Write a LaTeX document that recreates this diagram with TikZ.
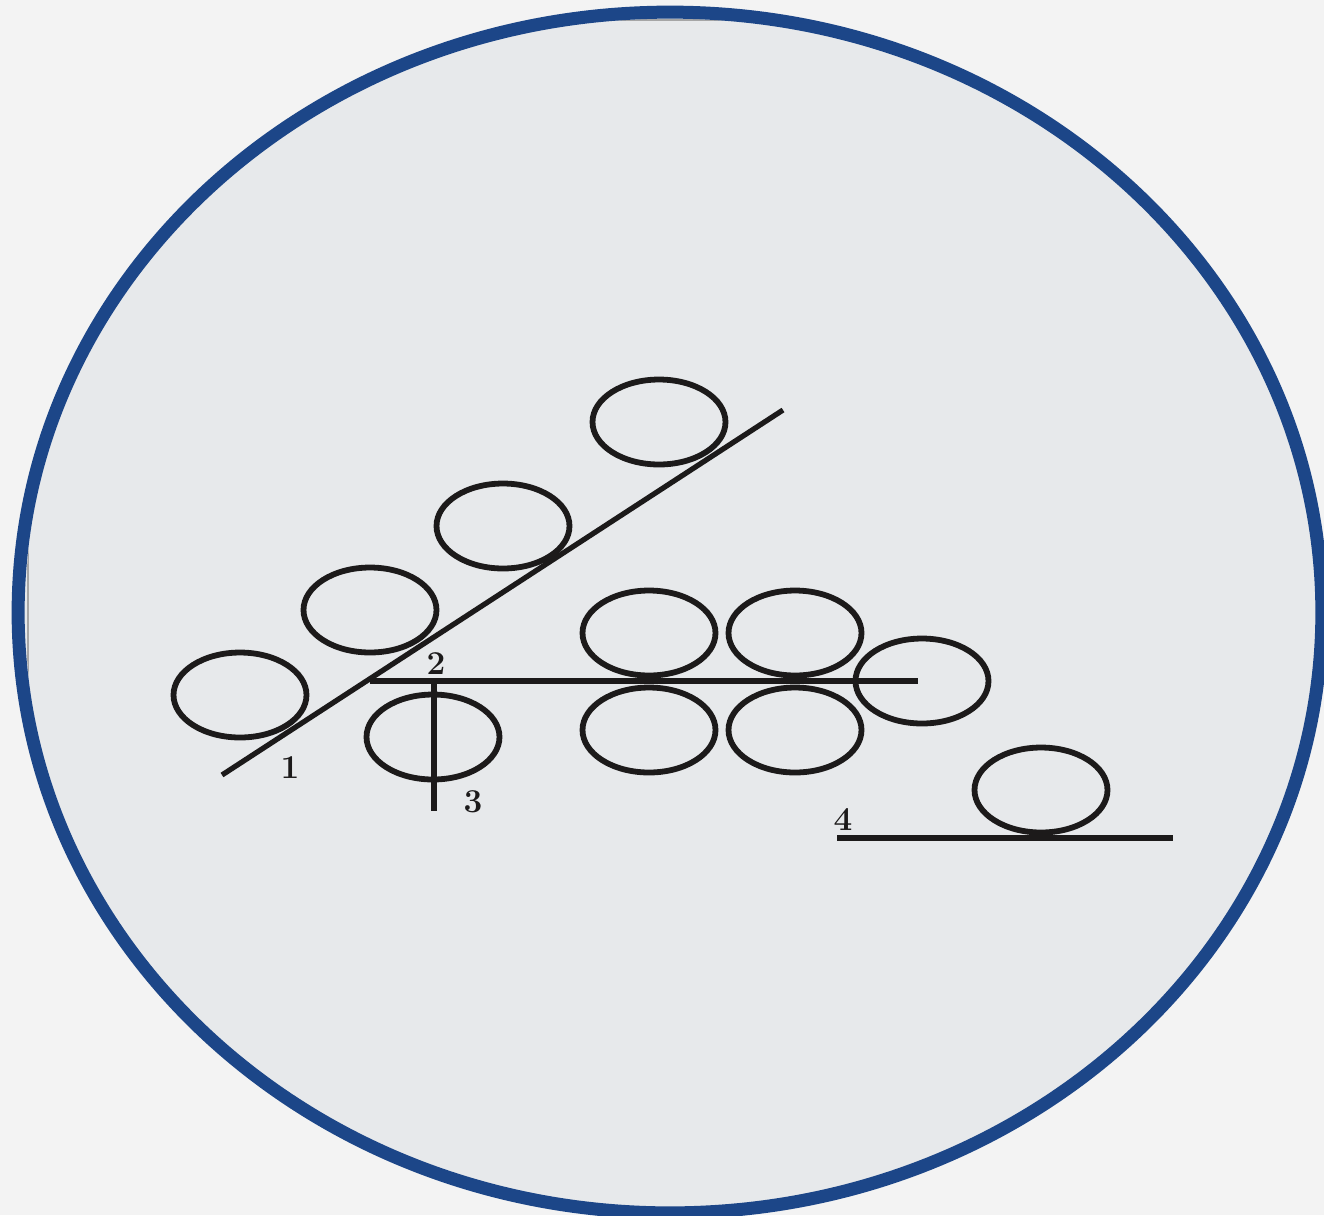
\documentclass[tikz,border=0pt]{standalone}
\usepackage{tikz}
\usetikzlibrary{shapes.geometric}
\definecolor{rimblue}{RGB}{28,70,136}
\definecolor{paper}{RGB}{243,243,243}
\definecolor{disc}{RGB}{231,233,235}
\definecolor{ink}{RGB}{28,26,26}
\tikzset{
  roll/.style={ellipse,draw=ink,line width=3.3pt,inner sep=0pt,
    minimum width=2.66cm,minimum height=1.7cm},
  guide/.style={draw=ink,line width=3pt},
  num/.style={font=\fontsize{19}{19}\selectfont\bfseries,text=ink,inner sep=0pt},
  rim/.style={draw=rimblue,line width=7.4pt},
}

\begin{document}
\begin{tikzpicture}[x=0.02cm,y=-0.02cm]
  \useasboundingbox (0,0) rectangle (1324,1215);
  \fill[paper] (0,0) rectangle (1324,1215);
  % backdrop disc with the picture frame inside
  \fill[disc] (670,612.5) ellipse (13.04cm and 12.01cm);
  \begin{scope}
    \clip (670,612.5) ellipse (12.9cm and 11.88cm);
    \draw[gray!70,line width=1.2pt] (28,20) rectangle (1318,1212);
  \end{scope}
  \draw[rim] (670,612.5) ellipse (13.04cm and 12.01cm);

  % rolls
  \foreach \n/\x/\y in {a1/659/422, a2/503/526, a3/370/610, a4/240/695,
      p/433/737, g11/649/633, g12/795/633, g21/649/730, g22/795/730,
      r/922/681, e/1041/790}
    \node[roll] (\n) at (\x,\y) {};

  % guides
  \coordinate (d0) at (222,775);
  \coordinate (d1) at (783,410);
  \coordinate (h0) at (370,681);
  \coordinate (h1) at (918,681);
  \coordinate (v0) at (434,683);
  \coordinate (v1) at (434,811);
  \coordinate (b0) at (837,838);
  \coordinate (b1) at (1173,838);
  \draw[guide] (d0) -- (d1);
  \draw[guide] (h0) -- (h1);
  \draw[guide] (v0) -- (v1);
  \draw[guide] (b0) -- (b1);

  % labels
  \node[num] (n1) at (290,768) {1};
  \node[num] (n2) at (436,664) {2};
  \node[num] (n3) at (473,802) {3};
  \node[num] (n4) at (843,819) {4};
\end{tikzpicture}
\end{document}
